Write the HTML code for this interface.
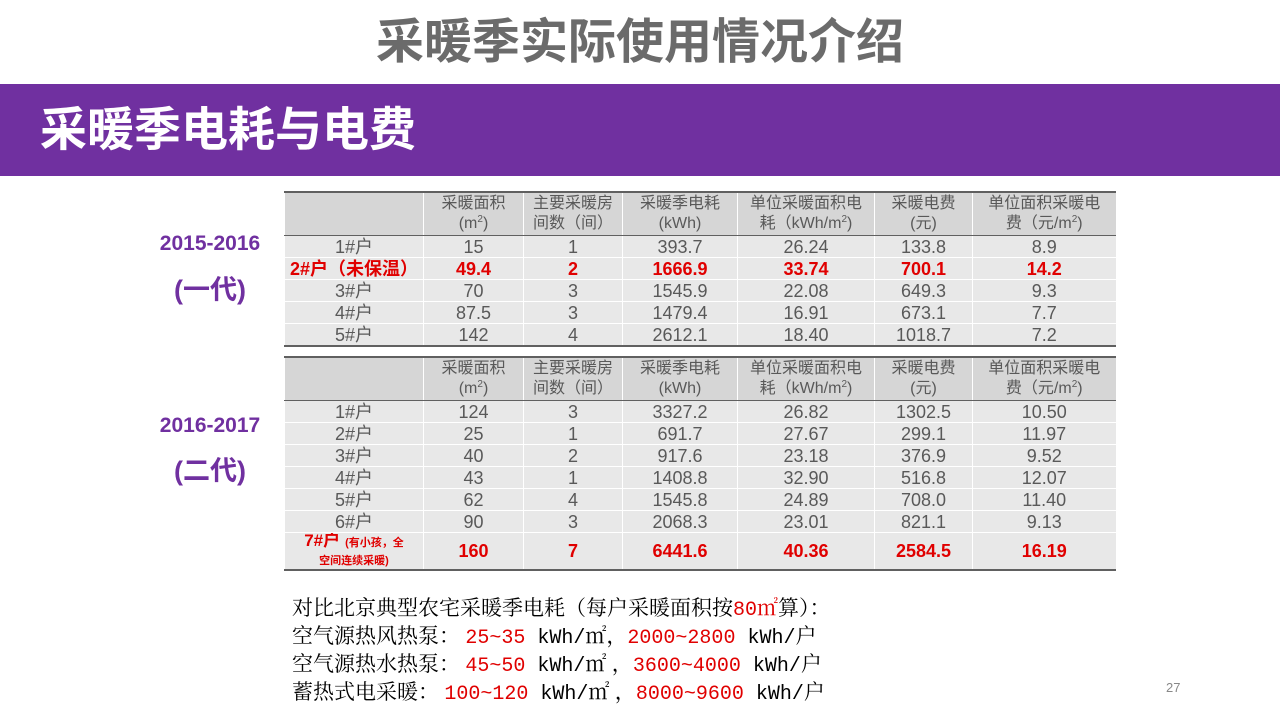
<!DOCTYPE html>
<html><head><meta charset="utf-8">
<style>
body{margin:0;width:1280px;height:720px;position:relative;background:#fff;font-family:"Liberation Sans","Noto Sans CJK SC",sans-serif;overflow:hidden}
.t{position:absolute}
table{position:absolute;left:284px;border-collapse:collapse;table-layout:fixed;width:831px;font-family:"Liberation Sans","Noto Sans CJK SC",sans-serif;color:#595959;border-top:2px solid #606060;border-bottom:2px solid #606060}
td{text-align:center;padding:0;font-size:18px;line-height:20px;height:21px;border-bottom:1px solid #fff;border-left:1px solid #fff;background:#e8e8e8;overflow:hidden;white-space:nowrap}
tr.h td{background:#d6d6d6;font-size:16px;line-height:20px;height:42px;border-bottom:1.5px solid #606060}
tr.r td{color:#e00000;font-weight:bold}
sup{font-size:10px;vertical-align:6px;line-height:0}
.b{position:absolute;left:292px;font-family:"Noto Serif CJK SC",serif;font-size:21px;line-height:28px;color:#000;white-space:nowrap}
.m{font-family:"Liberation Mono",monospace;font-size:20px}
.red{color:#e00000}
.lab{position:absolute;color:#7030a0;font-weight:bold;text-align:center;width:140px;left:140px}
</style></head><body>
<div class="t" style="left:0;width:1280px;top:13px;text-align:center;font-size:48px;font-weight:bold;color:#6b6b6b;line-height:60px">采暖季实际使用情况介绍</div>
<div class="t" style="left:0;top:84px;width:1280px;height:92px;background:#7030a0"></div>
<div class="t" style="left:40px;top:98px;font-size:47px;font-weight:bold;color:#fff;line-height:64px">采暖季电耗与电费</div>

<div class="lab" style="top:232px;font-size:21px">2015-2016</div>
<div class="lab" style="top:268px;font-size:27px">(一代)</div>
<div class="lab" style="top:414px;font-size:21px">2016-2017</div>
<div class="lab" style="top:449px;font-size:27px">(二代)</div>

<table style="top:191px">
<colgroup><col style="width:139px"><col style="width:100px"><col style="width:99px"><col style="width:115px"><col style="width:137px"><col style="width:98px"><col style="width:143px"></colgroup>
<tr class="h"><td></td><td>采暖面积<br>(m<sup>2</sup>)</td><td>主要采暖房<br>间数（间）</td><td>采暖季电耗<br>(kWh)</td><td>单位采暖面积电<br>耗（kWh/m<sup>2</sup>)</td><td>采暖电费<br>(元)</td><td>单位面积采暖电<br>费（元/m<sup>2</sup>)</td></tr>
<tr><td>1#户</td><td>15</td><td>1</td><td>393.7</td><td>26.24</td><td>133.8</td><td>8.9</td></tr>
<tr class="r"><td>2#户（未保温）</td><td>49.4</td><td>2</td><td>1666.9</td><td>33.74</td><td>700.1</td><td>14.2</td></tr>
<tr><td>3#户</td><td>70</td><td>3</td><td>1545.9</td><td>22.08</td><td>649.3</td><td>9.3</td></tr>
<tr><td>4#户</td><td>87.5</td><td>3</td><td>1479.4</td><td>16.91</td><td>673.1</td><td>7.7</td></tr>
<tr><td>5#户</td><td>142</td><td>4</td><td>2612.1</td><td>18.40</td><td>1018.7</td><td>7.2</td></tr>
</table>

<table style="top:356px">
<colgroup><col style="width:139px"><col style="width:100px"><col style="width:99px"><col style="width:115px"><col style="width:137px"><col style="width:98px"><col style="width:143px"></colgroup>
<tr class="h"><td></td><td>采暖面积<br>(m<sup>2</sup>)</td><td>主要采暖房<br>间数（间）</td><td>采暖季电耗<br>(kWh)</td><td>单位采暖面积电<br>耗（kWh/m<sup>2</sup>)</td><td>采暖电费<br>(元)</td><td>单位面积采暖电<br>费（元/m<sup>2</sup>)</td></tr>
<tr><td>1#户</td><td>124</td><td>3</td><td>3327.2</td><td>26.82</td><td>1302.5</td><td>10.50</td></tr>
<tr><td>2#户</td><td>25</td><td>1</td><td>691.7</td><td>27.67</td><td>299.1</td><td>11.97</td></tr>
<tr><td>3#户</td><td>40</td><td>2</td><td>917.6</td><td>23.18</td><td>376.9</td><td>9.52</td></tr>
<tr><td>4#户</td><td>43</td><td>1</td><td>1408.8</td><td>32.90</td><td>516.8</td><td>12.07</td></tr>
<tr><td>5#户</td><td>62</td><td>4</td><td>1545.8</td><td>24.89</td><td>708.0</td><td>11.40</td></tr>
<tr><td>6#户</td><td>90</td><td>3</td><td>2068.3</td><td>23.01</td><td>821.1</td><td>9.13</td></tr>
<tr class="r"><td style="line-height:15px;height:33px"><span style="font-size:17px">7#户</span> <span style="font-size:11px">(有小孩，全</span><br><span style="font-size:11px">空间连续采暖)</span></td><td style="height:33px">160</td><td>7</td><td>6441.6</td><td>40.36</td><td>2584.5</td><td>16.19</td></tr>
</table>

<div class="b" style="top:593px">对比北京典型农宅采暖季电耗（每户采暖面积按<span class="red"><span class="m">80</span>㎡</span>算）：</div>
<div class="b" style="top:621px">空气源热风热泵： <span class="red m">25~35</span><span class="m"> kWh/</span>㎡，<span class="red m">2000~2800</span><span class="m"> kWh/</span>户</div>
<div class="b" style="top:649px">空气源热水热泵： <span class="red m">45~50</span><span class="m"> kWh/</span>㎡ ，<span class="red m">3600~4000</span><span class="m"> kWh/</span>户</div>
<div class="b" style="top:677px">蓄热式电采暖： <span class="red m">100~120</span><span class="m"> kWh/</span>㎡ ，<span class="red m">8000~9600</span><span class="m"> kWh/</span>户</div>
<div class="t" style="left:1166px;top:680px;font-size:13px;color:#888">27</div>
</body></html>
